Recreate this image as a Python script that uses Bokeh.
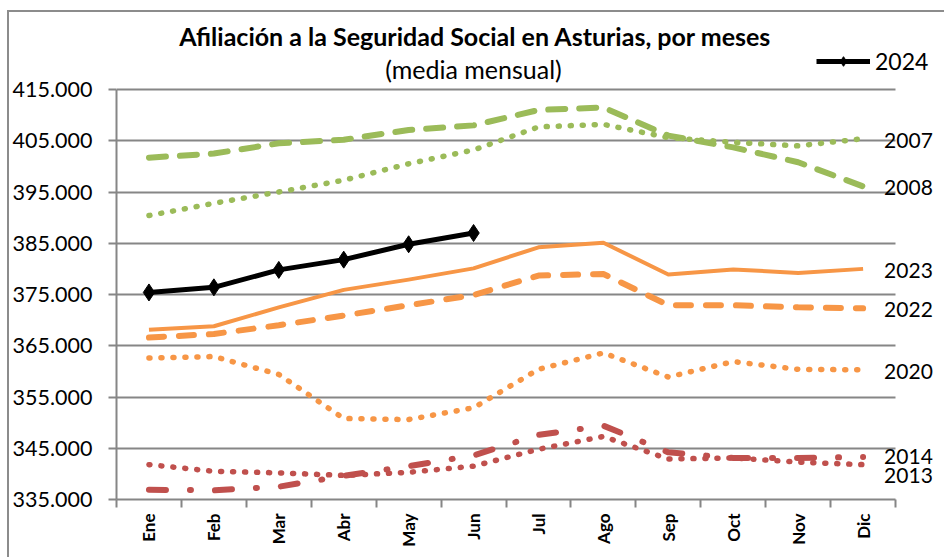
import math
from bokeh.plotting import figure
from bokeh.models import (FixedTicker, Label, Legend, LegendItem)
from bokeh.embed import file_html
from bokeh.resources import INLINE

# ---------------- data ----------------
months = ["Ene", "Feb", "Mar", "Abr", "May", "Jun",
          "Jul", "Ago", "Sep", "Oct", "Nov", "Dic"]

v2007 = [390400, 392800, 395000, 397300, 400500, 403200,
         407700, 408200, 405600, 404700, 404000, 405400]
v2008 = [401700, 402500, 404500, 405200, 407100, 408000,
         411000, 411500, 406000, 403700, 400800, 396100]
v2023 = [368100, 368800, 372500, 375900, 377900, 380100,
         384200, 385100, 378900, 379900, 379200, 380000]
v2022 = [366600, 367300, 369000, 370900, 372900, 374900,
         378700, 379000, 372900, 372900, 372500, 372300]
v2020 = [362600, 362900, 359400, 350800, 350600, 352900,
         360400, 363600, 358900, 361900, 360400, 360300]
v2014 = [341800, 340500, 340200, 339700, 340300, 341500,
         344800, 347300, 342900, 343100, 342300, 341800]
v2013 = [336900, 336800, 337500, 339600, 341500, 343600,
         347600, 349400, 344200, 343100, 343100, 343300]
v2024 = [375400, 376400, 379800, 381800, 384800, 387000]

y_ticks = [335000, 345000, 355000, 365000, 375000,
           385000, 395000, 405000, 415000]
y_tick_labels = ["335.000", "345.000", "355.000", "365.000", "375.000",
                 "385.000", "395.000", "405.000", "415.000"]

end_labels = ["2007", "2008", "2023", "2022", "2020", "2014", "2013"]
end_label_y = [405000, 395900, 379700, 372100, 360000, 343300, 339700]

title_text = "Afiliación a la Seguridad Social en Asturias, por meses"
subtitle_text = "(media mensual)"

# ---------------- style ----------------
GREEN = "#9BBB59"
ORANGE = "#F79646"
RED = "#C0504D"
GRAY = "#868686"
FONT = "Lato"

x = list(range(len(months)))
x24 = x[:len(v2024)]

W, H = 937, 547
ML, MR, MT, MB = 106, 2, 2, 60
frame_w, frame_h = W - ML - MR, H - MT - MB
px_per_month = 65.0
px_per_unit_y = 51.25 / 10000.0
x_end = -0.5 + frame_w / px_per_month
y_end = y_ticks[0] + frame_h / px_per_unit_y

p = figure(width=W, height=H, output_backend="svg", toolbar_location=None,
           x_range=(-0.5, x_end), y_range=(y_ticks[0], y_end),
           min_border_left=ML, min_border_right=MR, min_border_top=MT,
           min_border_bottom=MB, title=None)
p.styles = {"border-left": "2px solid #8c8c8c", "border-top": "2px solid #8c8c8c",
            "margin-left": "7px", "margin-top": "10px"}
p.outline_line_color = None
p.background_fill_color = "white"
p.border_fill_color = "white"

# grid
p.xgrid.visible = False
p.ygrid.ticker = FixedTicker(ticks=y_ticks)
p.ygrid.grid_line_color = GRAY
p.ygrid.grid_line_width = 2
p.ygrid.bounds = (y_ticks[0], y_ticks[-1])
p.ygrid.cross_bounds = (-0.5, len(months) - 0.5)

# y axis
p.yaxis.ticker = FixedTicker(ticks=y_ticks)
p.yaxis.bounds = (y_ticks[0], y_ticks[-1])
p.yaxis.major_label_overrides = {t: l for t, l in zip(y_ticks, y_tick_labels)}
p.yaxis.axis_line_color = GRAY
p.yaxis.axis_line_width = 2
p.yaxis.major_tick_line_color = GRAY
p.yaxis.major_tick_line_width = 2
p.yaxis.major_tick_out = 8
p.yaxis.major_tick_in = 0
p.yaxis.minor_tick_line_color = None
p.yaxis.major_label_text_font = FONT
p.yaxis.major_label_text_font_size = "21.5px"
p.yaxis.major_label_text_color = "black"
p.yaxis.major_label_standoff = 16

# x axis: labels at month centres, tick marks at month boundaries
bounds = [i - 0.5 for i in range(len(months) + 1)]
p.xaxis.ticker = FixedTicker(ticks=x, minor_ticks=bounds)
p.xaxis.bounds = (-0.5, len(months) - 0.5)
p.xaxis.major_label_overrides = {i: m for i, m in zip(x, months)}
p.xaxis.axis_line_color = GRAY
p.xaxis.axis_line_width = 2
p.xaxis.major_tick_line_color = None
p.xaxis.major_tick_out = 0
p.xaxis.major_tick_in = 0
p.xaxis.minor_tick_line_color = GRAY
p.xaxis.minor_tick_line_width = 2
p.xaxis.minor_tick_out = 8
p.xaxis.minor_tick_in = 0
p.xaxis.major_label_orientation = math.pi / 2
p.xaxis.major_label_text_font = FONT
p.xaxis.major_label_text_font_size = "17px"
p.xaxis.major_label_text_font_style = "bold"
p.xaxis.major_label_text_color = "black"
p.xaxis.major_label_standoff = 6

# series
p.line(x, v2007, line_color=GREEN, line_width=5.5, line_dash="1 11", line_cap="round")
p.line(x, v2008, line_color=GREEN, line_width=6, line_dash="17 14", line_cap="round")
p.line(x, v2023, line_color=ORANGE, line_width=4, line_join="round")
p.line(x, v2022, line_color=ORANGE, line_width=6, line_dash="15 15", line_cap="round")
p.line(x, v2020, line_color=ORANGE, line_width=5.5, line_dash="1 11", line_cap="round")
p.line(x, v2014, line_color=RED, line_width=5.5, line_dash="1 11", line_cap="round")
p.line(x, v2013, line_color=RED, line_width=6, line_dash="17 24 1 24", line_cap="round")
l24 = p.line(x24, v2024, line_color="black", line_width=5, line_join="round")
s24 = p.scatter(x24, v2024, marker="diamond", size=17, fill_color="black",
                line_color="black")

# end-of-line year labels
for txt, yy in zip(end_labels, end_label_y):
    p.add_layout(Label(x=x[-1], y=yy, x_offset=21, text=txt, text_font=FONT,
                       text_font_size="21px", text_color="black",
                       text_baseline="middle", text_align="left"))

# title / subtitle (screen units relative to the plot frame)
p.add_layout(Label(x=359, y=464, x_units="screen", y_units="screen", text=title_text,
                   text_font=FONT, text_font_size="25px", text_font_style="bold",
                   text_align="center", text_baseline="middle", text_color="black"))
p.add_layout(Label(x=357, y=431, x_units="screen", y_units="screen", text=subtitle_text,
                   text_font=FONT, text_font_size="25px",
                   text_align="center", text_baseline="middle", text_color="black"))

legend = Legend(items=[LegendItem(label="2024", renderers=[l24, s24])],
                location=(700, 424), background_fill_alpha=0, border_line_color=None,
                padding=0, margin=0, spacing=0, glyph_width=54, glyph_height=24,
                label_standoff=5, label_text_font=FONT, label_text_font_size="23px",
                label_text_color="black")
p.add_layout(legend)

open("out.html", "w").write(file_html(p, INLINE))
